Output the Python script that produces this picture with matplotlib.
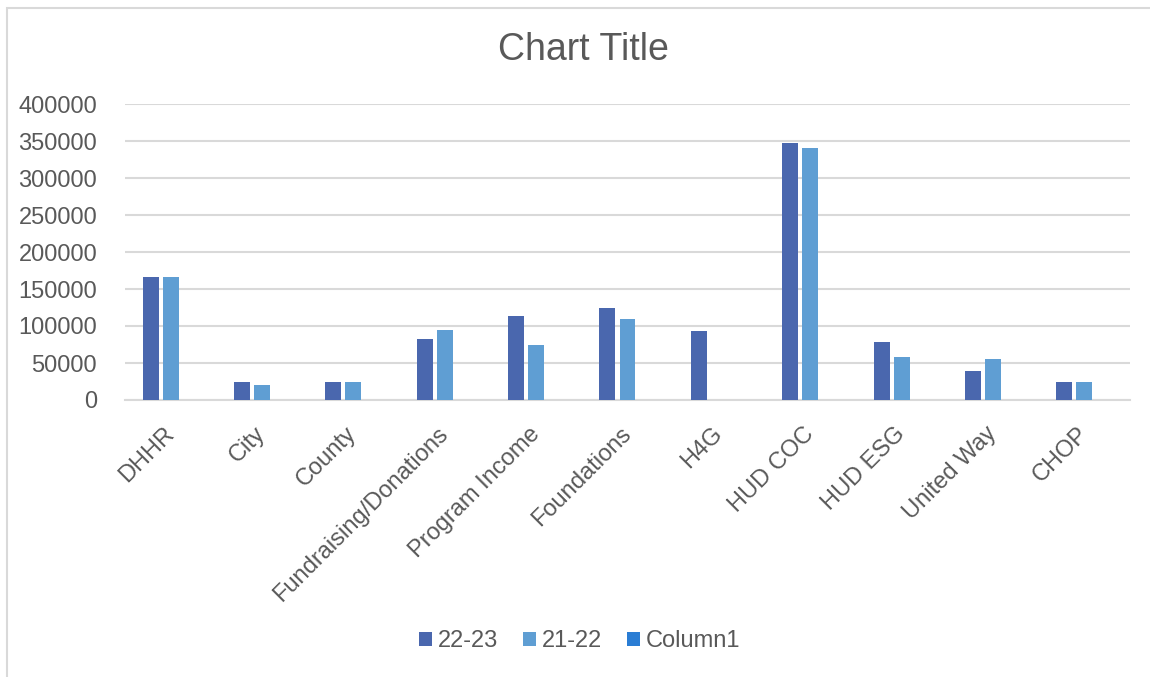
import numpy as np
import matplotlib.pyplot as plt
from matplotlib.patches import Rectangle, Patch

categories = ['DHHR', 'City', 'County', 'Fundraising/Donations', 'Program Income',
              'Foundations', 'H4G', 'HUD COC', 'HUD ESG', 'United Way', 'CHOP']
fy_22_23 = [166000, 25000, 25000, 82000, 114000, 125000, 93000, 347000, 79000, 39000, 25000]
fy_21_22 = [166000, 20000, 25000, 95000, 74000, 109000, 0, 341000, 58000, 55000, 25000]
column1 = [0] * len(categories)
series_names = ['22-23', '21-22', 'Column1']

plt.rcParams['font.family'] = ['Liberation Sans', 'DejaVu Sans']
txt = '#595959'
grid = '#D9D9D9'
colors = ['#4A67AE', '#5F9ED3', '#2A7DD4']

fig = plt.figure(figsize=(11.5, 6.77), dpi=100)
# chart border
fig.patches.append(Rectangle((7 / 1150, -0.05), 1.2, 1 - 8 / 677 + 0.05,
                             transform=fig.transFigure, fill=False,
                             edgecolor=grid, linewidth=1.5))

ax = fig.add_axes([125 / 1150, 1 - 400 / 677, 1005 / 1150, 296 / 677])
x = np.arange(len(categories))
w = 0.175
off = 0.219
for k, vals in enumerate([fy_22_23, fy_21_22, column1]):
    ax.bar(x + (k - 1) * off, vals, width=w, color=colors[k], zorder=3)

ax.set_xlim(-0.5, len(categories) - 0.5)
ax.set_ylim(0, 400000)
ax.set_yticks(np.arange(0, 400001, 50000))
ax.set_yticklabels([str(v) for v in range(0, 400001, 50000)])
ax.grid(axis='y', color=grid, linewidth=1.5, zorder=0)
for s in ['top', 'right', 'left']:
    ax.spines[s].set_visible(False)
ax.spines['bottom'].set_color(grid)
ax.spines['bottom'].set_linewidth(1.5)
ax.tick_params(axis='both', length=0, colors=txt, labelsize=17)
ax.tick_params(axis='y', pad=20)
ax.set_xticks(x)
ax.set_xticklabels(categories, rotation=45, ha='right', va='center',
                   rotation_mode='anchor')
ax.tick_params(axis='x', pad=22)

fig.text(583 / 1150, 1 - 50 / 677, 'Chart Title', ha='center', va='center',
         fontsize=27, color=txt)

handles = [Patch(facecolor=c) for c in colors]
leg = fig.legend(handles, series_names, loc='center', ncol=3,
                 bbox_to_anchor=(580 / 1150, 1 - 641 / 677), frameon=False,
                 fontsize=17, handlelength=0.55, handleheight=0.55,
                 handletextpad=0.25, columnspacing=1.05)
for t in leg.get_texts():
    t.set_color(txt)

fig.savefig('out.png', dpi=100)
